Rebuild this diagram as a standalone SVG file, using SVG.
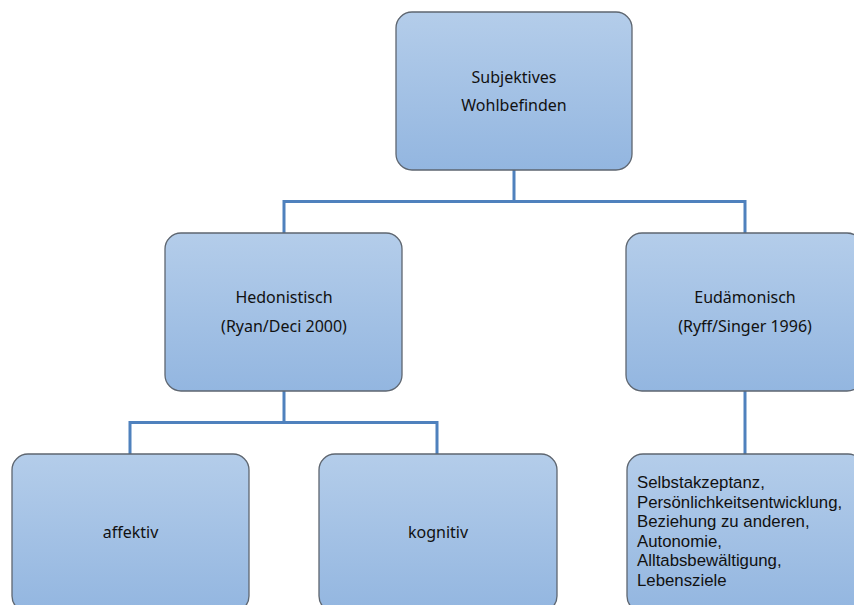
<svg xmlns="http://www.w3.org/2000/svg" width="854" height="605" viewBox="0 0 854 605">
<defs>
<linearGradient id="g" x1="0" y1="0" x2="0" y2="1">
<stop offset="0" stop-color="#b4cdea"/>
<stop offset="1" stop-color="#93b6e0"/>
</linearGradient>
<style>
.box{fill:url(#g);stroke:#5e6670;stroke-width:1.3}
.t{font-family:"Noto Sans","Open Sans",sans-serif;font-size:16px;fill:#111}
.l{font-family:"Liberation Sans",Arial,sans-serif;font-size:16.8px;fill:#111}
.c{text-anchor:middle}
.con{fill:none;stroke:#4f81bd;stroke-width:3}
</style>
</defs>
<rect width="854" height="605" fill="#fff"/>
<g id="connectors">
<path class="con" d="M514 170V201.5M284 233V201.5H745V233"/>
<path class="con" d="M284 391V422.5M130 454V422.5H437V454"/>
<path class="con" d="M745 391V454"/>
</g>
<g id="n-root">
<rect class="box" x="396" y="12" width="236" height="158" rx="16"/>
<text class="t c" x="514" y="83">Subjektives</text>
<text class="t c" x="514" y="111">Wohlbefinden</text>
</g>
<g id="n-hed">
<rect class="box" x="165" y="233" width="237" height="158" rx="16"/>
<text class="t c" x="284" y="303">Hedonistisch</text>
<text class="t c" x="284" y="332">(Ryan/Deci 2000)</text>
</g>
<g id="n-eud">
<rect class="box" x="626" y="233" width="237" height="158" rx="16"/>
<text class="t c" x="745" y="303">Eudämonisch</text>
<text class="t c" x="745" y="332">(Ryff/Singer 1996)</text>
</g>
<g id="n-aff">
<rect class="box" x="12" y="454" width="237" height="158" rx="16"/>
<text class="t c" x="130.5" y="538">affektiv</text>
</g>
<g id="n-kog">
<rect class="box" x="319" y="454" width="238" height="158" rx="16"/>
<text class="t c" x="438" y="538">kognitiv</text>
</g>
<g id="n-eud-list">
<rect class="box" x="627" y="454" width="237" height="158" rx="16"/>
<text class="l" x="637" y="488">Selbstakzeptanz,</text>
<text class="l" x="637" y="507.5">Persönlichkeitsentwicklung,</text>
<text class="l" x="637" y="527">Beziehung zu anderen,</text>
<text class="l" x="637" y="546.5">Autonomie,</text>
<text class="l" x="637" y="566">Alltabsbewältigung,</text>
<text class="l" x="637" y="585.5">Lebensziele</text>
</g>
</svg>
